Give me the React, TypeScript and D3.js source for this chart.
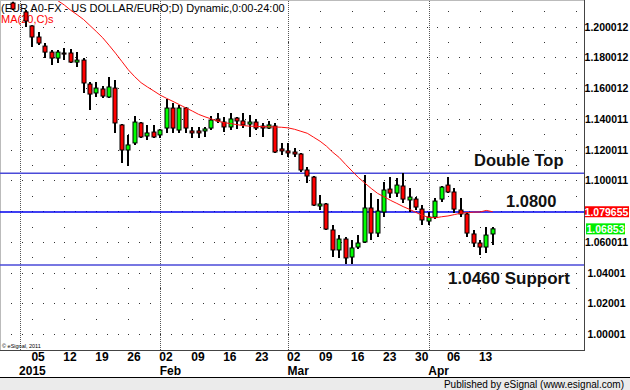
import React, { useEffect, useRef } from 'react';
import * as d3 from 'd3';

// weekday slots, Wed 31 Dec 2014 .. Wed 15 Apr 2015 (1 Jan has no bar)
const days = d3.timeDay
  .range(new Date(2014, 11, 31), new Date(2015, 3, 16))
  .filter(d => d.getDay() !== 0 && d.getDay() !== 6);

const opens = [
  1.2154, null, 1.2096, 1.2005, 1.1933, 1.1874, 1.1835, 1.1796, 1.1829, 1.1829,
  1.1770, 1.1783, 1.1627, 1.1569, 1.1595, 1.1543, 1.1601, 1.1361, 1.1198, 1.1244,
  1.1374, 1.1289, 1.1315, 1.1296, 1.1341, 1.1471, 1.1328, 1.1471, 1.1322, 1.1322,
  1.1322, 1.1341, 1.1400, 1.1380, 1.1348, 1.1406, 1.1387, 1.1367, 1.1380, 1.1354,
  1.1341, 1.1354, 1.1205, 1.1192, 1.1185, 1.1172, 1.1068, 1.1022, 1.0834, 1.0847,
  1.0678, 1.0548, 1.0619, 1.0502, 1.0567, 1.0600, 1.0821, 1.0658, 1.0795, 1.0944,
  1.0918, 1.0964, 1.0873, 1.0879, 1.0814, 1.0736, 1.0762, 1.0879, 1.0970, 1.0925,
  1.0808, 1.0782, 1.0652, 1.0593, 1.0567, 1.0652,
];
const highs = [
  1.2163, null, 1.2109, 1.2010, 1.1966, 1.1894, 1.1848, 1.1848, 1.1861, 1.1855,
  1.1835, 1.1796, 1.1640, 1.1640, 1.1614, 1.1673, 1.1653, 1.1367, 1.1296, 1.1419,
  1.1380, 1.1361, 1.1361, 1.1335, 1.1530, 1.1504, 1.1491, 1.1478, 1.1348, 1.1348,
  1.1348, 1.1419, 1.1439, 1.1413, 1.1439, 1.1413, 1.1439, 1.1426, 1.1400, 1.1374,
  1.1387, 1.1374, 1.1244, 1.1244, 1.1211, 1.1179, 1.1087, 1.1029, 1.0905, 1.0853,
  1.0710, 1.0645, 1.0632, 1.0613, 1.0645, 1.1035, 1.0918, 1.0879, 1.0990, 1.1022,
  1.1016, 1.1048, 1.0951, 1.0892, 1.0840, 1.0795, 1.0886, 1.0964, 1.1022, 1.0951,
  1.0886, 1.0795, 1.0678, 1.0613, 1.0697, 1.0697,
];
const lows = [
  1.2109, null, 1.1998, 1.1868, 1.1881, 1.1796, 1.1751, 1.1764, 1.1783, 1.1764,
  1.1738, 1.1569, 1.1458, 1.1543, 1.1536, 1.1536, 1.1309, 1.1113, 1.1094, 1.1231,
  1.1276, 1.1263, 1.1276, 1.1276, 1.1309, 1.1309, 1.1309, 1.1309, 1.1276, 1.1276,
  1.1283, 1.1328, 1.1374, 1.1315, 1.1328, 1.1335, 1.1341, 1.1283, 1.1328, 1.1283,
  1.1335, 1.1179, 1.1166, 1.1153, 1.1153, 1.1055, 1.0983, 1.0834, 1.0808, 1.0678,
  1.0502, 1.0496, 1.0457, 1.0457, 1.0554, 1.0593, 1.0613, 1.0632, 1.0762, 1.0886,
  1.0892, 1.0853, 1.0795, 1.0808, 1.0710, 1.0710, 1.0749, 1.0860, 1.0918, 1.0788,
  1.0762, 1.0632, 1.0567, 1.0515, 1.0528, 1.0580,
];
const closes = [
  1.2115, null, 1.2037, 1.1933, 1.1894, 1.1835, 1.1796, 1.1835, 1.1822, 1.1770,
  1.1783, 1.1634, 1.1562, 1.1601, 1.1549, 1.1608, 1.1374, 1.1198, 1.1231, 1.1380,
  1.1283, 1.1309, 1.1283, 1.1328, 1.1471, 1.1341, 1.1471, 1.1341, 1.1309, 1.1309,
  1.1335, 1.1393, 1.1387, 1.1348, 1.1400, 1.1387, 1.1361, 1.1380, 1.1341, 1.1341,
  1.1361, 1.1185, 1.1192, 1.1179, 1.1172, 1.1068, 1.1029, 1.0840, 1.0847, 1.0684,
  1.0548, 1.0619, 1.0496, 1.0561, 1.0593, 1.0821, 1.0658, 1.0801, 1.0938, 1.0918,
  1.0970, 1.0879, 1.0892, 1.0827, 1.0743, 1.0762, 1.0866, 1.0957, 1.0925, 1.0814,
  1.0782, 1.0658, 1.0593, 1.0567, 1.0645, 1.06853,
];
// MA(20,C)
const ma20 = [
  null, null, null, null, null, 1.2232, 1.2200, 1.2169, 1.2141, 1.2107,
  1.2078, 1.2047, 1.2008, 1.1969, 1.1928, 1.1879, 1.1828, 1.1774, 1.1720, 1.1675,
  1.1636, 1.1608, 1.1582, 1.1555, 1.1534, 1.1514, 1.1493, 1.1472, 1.1452, 1.1430,
  1.1414, 1.1400, 1.1385, 1.1376, 1.1370, 1.1363, 1.1357, 1.1353, 1.1352, 1.1350,
  1.1349, 1.1348, 1.1346, 1.1342, 1.1333, 1.1320, 1.1307, 1.1281, 1.1255, 1.1223,
  1.1183, 1.1149, 1.1104, 1.1061, 1.1019, 1.0983, 1.0948, 1.0916, 1.0894, 1.0871,
  1.0851, 1.0830, 1.0812, 1.0792, 1.0773, 1.0760, 1.0757, 1.0764, 1.0769, 1.0778,
  1.0787, 1.0791, 1.0794, 1.0795, 1.0805, 1.079655,
];

const tickValues = [1.00001, 1.02001, 1.04001, 1.060011, 1.080011, 1.100011, 1.120011, 1.140011, 1.160012, 1.180012, 1.200012];
const tickLabels = ['1.00001', '1.02001', '1.04001', '1.060011', '1.080011', '1.100011', '1.120011', '1.140011', '1.160012', '1.180012', '1.200012'];
const monthLabels = ['2015', 'Feb', 'Mar', 'Apr'];

const doubleTop = 1.1047;
const pivot = 1.0795;
const support = 1.045;
const lastMa = '1.079655';
const lastClose = '1.06853';

const font = "'Liberation Sans', Arial, sans-serif";
const narrow = "'Liberation Sans Narrow', 'Arial Narrow', 'Liberation Sans', Arial, sans-serif";

const App: React.FC = () => {
  const svgRef = useRef<SVGSVGElement>(null);

  useEffect(() => {
    if (!svgRef.current) return;
    const W = 630, H = 390;
    const plotR = 584, plotB = 350;

    const svg = d3.select(svgRef.current);
    svg.selectAll('*').remove();
    svg.attr('width', W).attr('height', H).style('font-family', font);

    const fmt = d3.timeFormat('%Y-%m-%d');
    const keys = days.map(fmt);
    const x = d3.scalePoint<string>().domain(keys).range([13.2, 492.7]);
    const step = x.step();
    const y = d3.scaleLinear().domain([1.00001, 1.200012]).range([334.2, 26.7]);

    svg.append('rect').attr('width', W).attr('height', H).attr('fill', '#fff');
    svg.append('defs').append('clipPath').attr('id', 'plotclip')
      .append('rect').attr('x', 0).attr('y', 1).attr('width', plotR).attr('height', plotB - 1);

    // dotted grid
    const grid = svg.append('g').attr('fill', '#333');
    const mondays = days.filter(d => d.getDay() === 1);
    const x0 = x(fmt(mondays[0]))!;
    const along = (gap: number) =>
      d3.range(Math.ceil((1 - x0) / gap), Math.floor((plotR - 3 - x0) / gap) + 1).map(k => x0 + k * gap);
    const denseXs = along(step * 5 / 3);
    const weekXs = along(step * 5);
    tickValues.forEach(v => {
      denseXs.forEach(px => grid.append('rect')
        .attr('x', Math.round(px)).attr('y', Math.round(y(v))).attr('width', 1).attr('height', 1));
      const m = v + 0.01;
      if (y(m) > 3) weekXs.forEach(px => grid.append('rect')
        .attr('x', Math.round(px)).attr('y', Math.round(y(m))).attr('width', 1).attr('height', 1));
    });

    // month separators
    const monthStarts = days.map((d, i) => ({ d, i })).filter(({ d, i }) => i > 0 && d.getMonth() !== days[i - 1].getMonth());
    monthStarts.forEach(({ i }) => {
      const px = Math.round(x(keys[i])!) + 0.5;
      svg.append('line').attr('x1', px).attr('x2', px).attr('y1', 1).attr('y2', plotB)
        .attr('stroke', '#555').attr('stroke-dasharray', '1,1');
    });

    // frame
    svg.append('line').attr('x1', 0).attr('x2', plotR).attr('y1', 0.5).attr('y2', 0.5).attr('stroke', '#bbb');
    svg.append('line').attr('x1', 0.5).attr('x2', 0.5).attr('y1', 0).attr('y2', plotB).attr('stroke', '#bbb');
    svg.append('line').attr('x1', 0).attr('x2', plotR + 1).attr('y1', plotB + 0.5).attr('y2', plotB + 0.5).attr('stroke', '#444');
    svg.append('line').attr('x1', plotR + 0.5).attr('x2', plotR + 0.5).attr('y1', 0).attr('y2', plotB + 1).attr('stroke', '#444');

    // title
    svg.append('text').attr('x', 1).attr('y', 12).attr('font-size', 11).attr('fill', '#000')
      .text('(EUR A0-FX - US DOLLAR/EURO;D) Dynamic,0:00-24:00');
    svg.append('text').attr('x', 1).attr('y', 23).attr('font-size', 11).attr('fill', '#f00')
      .text('MA(20,C)s');
    svg.append('text').attr('x', 2).attr('y', 348).attr('font-size', 5.5).attr('fill', '#000')
      .text('© eSignal, 2011');

    // level lines
    const levels = [
      { v: doubleTop, c: '#4a4ad8', w: 1.6 },
      { v: pivot, c: '#0000ee', w: 1.4 },
      { v: support, c: '#4a4ad8', w: 1.6 },
    ];
    levels.forEach(l => svg.append('line')
      .attr('x1', 0).attr('x2', plotR).attr('y1', y(l.v)).attr('y2', y(l.v))
      .attr('stroke', l.c).attr('stroke-width', l.w));

    const notes = svg.append('g').attr('font-weight', 'bold').attr('fill', '#111');
    notes.append('text').attr('x', 474).attr('y', y(doubleTop) - 7).attr('font-size', 16.5).text('Double Top');
    notes.append('text').attr('x', 506).attr('y', y(pivot) - 5).attr('font-size', 16.5).text('1.0800');
    notes.append('text').attr('x', 448).attr('y', y(support) + 19).attr('font-size', 17).text('1.0460 Support');

    // candles
    const candles = svg.append('g').attr('clip-path', 'url(#plotclip)');
    d3.range(days.length).filter(i => opens[i] != null).forEach(i => {
      const o = opens[i]!, h = highs[i]!, l = lows[i]!, c = closes[i]!;
      const cx = Math.round(x(keys[i])!);
      candles.append('line').attr('x1', cx).attr('x2', cx).attr('y1', y(h)).attr('y2', y(l))
        .attr('stroke', '#000').attr('stroke-width', 2);
      const top = y(Math.max(o, c));
      const hgt = Math.max(Math.abs(y(o) - y(c)), 1);
      candles.append('rect').attr('x', cx - 2).attr('y', top).attr('width', 4).attr('height', hgt)
        .attr('fill', c >= o ? '#00ff00' : '#ff0000').attr('stroke', '#000').attr('stroke-width', 1);
    });

    // moving average
    const maLine = d3.line<number | null>()
      .defined(v => v != null)
      .x((_, i) => x(keys[i])!)
      .y(v => y(v as number));
    svg.append('path').datum(ma20).attr('clip-path', 'url(#plotclip)')
      .attr('fill', 'none').attr('stroke', '#ff1010').attr('stroke-width', 1).attr('d', maLine);

    // price axis
    const axis = svg.append('g').attr('font-size', 10.5).attr('font-weight', 'bold').attr('text-anchor', 'middle');
    tickValues.forEach((v, i) => axis.append('text').attr('x', 606.5).attr('y', y(v) + 4).text(tickLabels[i]));
    const maY = y(+lastMa);
    axis.append('rect').attr('x', 585).attr('y', maY - 5.5).attr('width', 44).attr('height', 11).attr('fill', '#ff0000');
    axis.append('text').attr('x', 606.5).attr('y', maY + 4).attr('fill', '#fff').text(lastMa);
    const cY = y(+lastClose);
    axis.append('rect').attr('x', 586).attr('y', cY - 5.5).attr('width', 39).attr('height', 11).attr('fill', '#00ee00');
    axis.append('text').attr('x', 605.5).attr('y', cY + 4).attr('fill', '#fff').text(lastClose);

    // time axis
    const tAxis = svg.append('g').attr('font-size', 12).attr('font-weight', 'bold').style('font-family', narrow);
    mondays.forEach(d => tAxis.append('text').attr('x', x(fmt(d))! - 1).attr('y', 361).text(d3.timeFormat('%d')(d)));
    monthStarts.forEach(({ i }, k) => tAxis.append('text').attr('x', x(keys[i])! - 0.5).attr('y', 375).text(monthLabels[k]));

    // footer
    svg.append('rect').attr('x', 0).attr('y', 378).attr('width', W).attr('height', H - 378).attr('fill', '#ebebeb');
    svg.append('line').attr('x1', 0).attr('x2', W).attr('y1', 377.5).attr('y2', 377.5).attr('stroke', '#000');
    svg.append('text').attr('x', 624).attr('y', 388).attr('text-anchor', 'end').attr('font-size', 10)
      .text('Published by eSignal (www.esignal.com)');
  }, []);

  return <svg ref={svgRef} style={{ position: 'absolute', left: 0, top: 0 }} />;
};

export default App;
